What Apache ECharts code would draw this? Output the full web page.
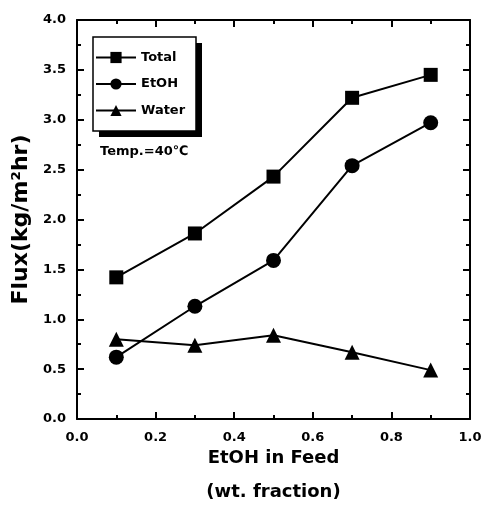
<!DOCTYPE html>
<html>
<head>
<meta charset="utf-8">
<script src="https://cdn.jsdelivr.net/npm/echarts@6/dist/echarts.min.js"></script>
<style>
  html, body { margin: 0; padding: 0; background: #fff; }
  #chart { width: 481px; height: 509px; }
</style>
</head>
<body>
<div id="chart"></div>
<script>
// data
var feed = [0.1, 0.3, 0.5, 0.7, 0.9];
var total = [1.42, 1.86, 2.43, 3.22, 3.45];
var etoh = [0.62, 1.13, 1.59, 2.54, 2.97];
var water = [0.80, 0.74, 0.84, 0.67, 0.49];

function pairs(ys) {
    return feed.map(function (x, i) { return [x, ys[i]]; });
}

var font = 'DejaVu Sans, Verdana, sans-serif';
var myChart = echarts.init(document.getElementById('chart'));

var tickBase = {
    axisLine: { show: true, onZero: false, lineStyle: { color: '#000', width: 2 } },
    axisTick: { show: true, inside: true, length: 7, lineStyle: { color: '#000', width: 2 } },
    minorTick: { show: true, splitNumber: 2, length: 4, lineStyle: { color: '#000', width: 2 } },
    splitLine: { show: false }
};

var lineSeries = function (name, ys, symbol, size) {
    return {
        name: name,
        type: 'line',
        data: pairs(ys),
        symbol: symbol,
        symbolSize: size,
        itemStyle: { color: '#000' },
        lineStyle: { color: '#000', width: 2 },
        z: 3
    };
};

var tickLabel = { fontFamily: font, fontWeight: 'bold', fontSize: 13, color: '#000',
    formatter: function (v) { return v.toFixed(1); } };

var option = {
    animation: false,
    grid: { left: 77, right: 11, top: 20, bottom: 90, outerBoundsMode: 'none', containLabel: false },
    legend: {
        orient: 'vertical',
        left: 90,
        top: 46,
        itemWidth: 40,
        itemHeight: 14,
        itemGap: 13.5,
        textStyle: { fontFamily: font, fontWeight: 'bold', fontSize: 13, color: '#000' },
        data: ['Total', 'EtOH', 'Water']
    },
    graphic: [
        { type: 'rect', shape: { x: 99, y: 43, width: 103, height: 94 }, style: { fill: '#000' }, z: 1 },
        { type: 'rect', shape: { x: 93, y: 37, width: 103, height: 94 }, style: { fill: '#fff', stroke: '#000', lineWidth: 1.5 }, z: 2 },
        { type: 'text', left: 100, top: 145, z: 3,
          style: { text: 'Temp.=40\u2103', font: 'bold 13px ' + font, fill: '#000' } }
    ],
    xAxis: [
        Object.assign({
            type: 'value', min: 0, max: 1, interval: 0.2, position: 'bottom',
            name: 'EtOH in Feed\n\n(wt. fraction)',
            nameLocation: 'middle', nameGap: 31,
            nameTextStyle: { fontFamily: font, fontWeight: 'bold', fontSize: 18, color: '#000', lineHeight: 17, verticalAlign: 'top' },
            axisLabel: Object.assign({ margin: 12 }, tickLabel)
        }, tickBase),
        Object.assign({
            type: 'value', min: 0, max: 1, interval: 0.2, position: 'top',
            axisLabel: { show: false }
        }, tickBase)
    ],
    yAxis: [
        Object.assign({
            type: 'value', min: 0, max: 4, interval: 0.5, position: 'left',
            name: 'Flux(kg/m\u00b2hr)',
            nameLocation: 'middle', nameGap: 43, nameRotate: 90,
            nameTextStyle: { fontFamily: font, fontWeight: 'bold', fontSize: 22, color: '#000' },
            axisLabel: Object.assign({ margin: 11 }, tickLabel)
        }, tickBase),
        Object.assign({
            type: 'value', min: 0, max: 4, interval: 0.5, position: 'right',
            axisLabel: { show: false }
        }, tickBase)
    ],
    series: [
        lineSeries('Total', total, 'rect', 14),
        lineSeries('EtOH', etoh, 'circle', 15),
        lineSeries('Water', water, 'triangle', 15)
    ]
};

myChart.setOption(option);
</script>
</body>
</html>
